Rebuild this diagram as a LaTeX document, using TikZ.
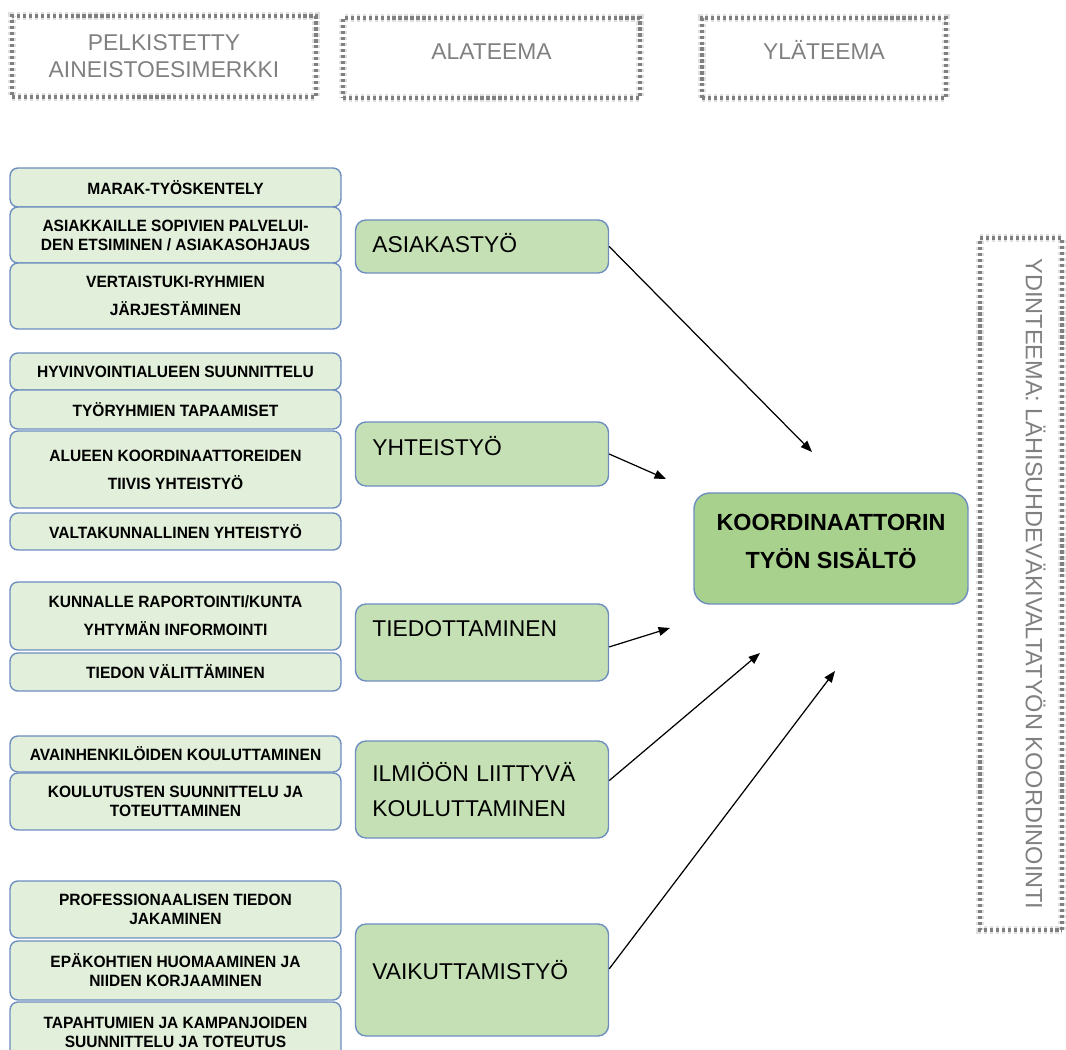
\documentclass[tikz,border=0pt]{standalone}
\usepackage{fontspec}
\setmainfont{Liberation Sans}
\newfontfamily\narrowfont[FakeStretch=0.95]{Liberation Sans}
\usepackage{tikz}
\usetikzlibrary{arrows.meta, positioning}

\definecolor{headgray}{RGB}{128,128,128}
\definecolor{itemfill}{RGB}{226,239,218}
\definecolor{itemline}{RGB}{109,142,191}
\definecolor{subfill}{RGB}{197,224,180}
\definecolor{mainfill}{RGB}{169,209,142}

\begin{document}
\begin{tikzpicture}[x=0.02cm, y=-0.02cm,
    head/.style={draw=headgray, line width=1.8pt, dash pattern=on 1.8pt off 1.6pt,
        preaction={draw=black!12, line width=4.5pt}, text=headgray,
        font=\fontsize{13}{15.3}\selectfont, align=center, inner sep=0pt},
    item/.style={draw=itemline, line width=0.8pt, fill=itemfill, rounded corners=4.5pt,
        minimum width=6.62cm, align=center, inner sep=1pt,
        font=\narrowfont\bfseries\fontsize{9.3}{10.8}\selectfont},
    theme/.style={draw=itemline, line width=0.8pt, fill=subfill, rounded corners=6pt,
        text width=124.8pt, inner xsep=9.6pt, inner ysep=0pt, align=left,
        font=\fontsize{13}{20}\selectfont},
    core/.style={draw=itemline, line width=0.8pt, fill=mainfill, rounded corners=9pt,
        minimum width=5.48cm, minimum height=2.22cm, align=center,
        font=\bfseries\fontsize{13.3}{21.5}\selectfont},
    lift/.style={text height=9.3pt, text depth=#1},
    arr/.style={-{Triangle[length=6.5pt,width=5pt]}, line width=0.7pt}]
    \useasboundingbox (0,0) rectangle (1066,1050);

    % Header boxes
    \node[head, minimum width=6.08cm, minimum height=1.62cm] (pelk) at (164,56.5) {PELKISTETTY\\AINEISTOESIMERKKI};
    \node[head, minimum width=5.94cm, minimum height=1.6cm, lift=8pt] (alat) at (491.5,58) {ALATEEMA};
    \node[head, minimum width=4.88cm, minimum height=1.6cm, lift=8pt] (ylat) at (824,58) {YLÄTEEMA};
    \node[head, rotate=-90, minimum width=13.84cm, minimum height=1.64cm, lift=14.8pt,
        font=\fontsize{13.4}{15.3}\selectfont] (ydin) at (1021,584) {YDINTEEMA: LÄHISUHDEVÄKIVALTATYÖN KOORDINOINTI};

    % Example boxes
    \node[item, minimum height=0.78cm] (marak) at (175.5,187.5) {MARAK-TYÖSKENTELY};
    \node[item, minimum height=1.12cm] (ohjaus) at (175.5,235) {ASIAKKAILLE SOPIVIEN PALVELUI-\\DEN ETSIMINEN / ASIAKASOHJAUS};
    \node[item, minimum height=1.32cm] (vertais) at (175.5,296) {VERTAISTUKI-RYHMIEN\\[5.2pt]JÄRJESTÄMINEN};

    \node[item, minimum height=0.74cm] (hyvin) at (175.5,371.5) {HYVINVOINTIALUEEN SUUNNITTELU};
    \node[item, minimum height=0.78cm] (tapaam) at (175.5,409.5) {TYÖRYHMIEN TAPAAMISET};
    \node[item, minimum height=1.54cm] (alueen) at (175.5,469.5) {ALUEEN KOORDINAATTOREIDEN\\[5.2pt]TIIVIS YHTEISTYÖ};
    \node[item, minimum height=0.74cm] (valta) at (175.5,531.5) {VALTAKUNNALLINEN YHTEISTYÖ};

    \node[item, minimum height=1.36cm] (kunta) at (175.5,616) {KUNNALLE RAPORTOINTI/KUNTA\\[5.2pt]YHTYMÄN INFORMOINTI};
    \node[item, minimum height=0.76cm] (valit) at (175.5,672) {TIEDON VÄLITTÄMINEN};

    \node[item, minimum height=0.72cm] (avain) at (175.5,754) {AVAINHENKILÖIDEN KOULUTTAMINEN};
    \node[item, minimum height=1.14cm] (koulut) at (175.5,801.5) {KOULUTUSTEN SUUNNITTELU JA\\TOTEUTTAMINEN};

    \node[item, minimum height=1.14cm] (prof) at (175.5,909.5) {PROFESSIONAALISEN TIEDON\\JAKAMINEN};
    \node[item, minimum height=1.18cm] (epak) at (175.5,970.5) {EPÄKOHTIEN HUOMAAMINEN JA\\NIIDEN KORJAAMINEN};
    \node[item, minimum height=1.2cm] (tapaht) at (175.5,1032) {TAPAHTUMIEN JA KAMPANJOIDEN\\SUUNNITTELU JA TOTEUTUS};

    % Subthemes
    \node[theme, minimum height=1.06cm, lift=2.8pt] (asiakas) at (482,246.5) {ASIAKASTYÖ};
    \node[theme, minimum height=1.28cm, lift=8pt] (yhteis) at (482,454) {YHTEISTYÖ};
    \node[theme, minimum height=1.54cm, lift=16pt] (tiedot) at (482,642.5) {TIEDOTTAMINEN};
    \node[theme, minimum height=1.94cm] (ilmio) at (482,789.5) {ILMIÖÖN LIITTYVÄ\\KOULUTTAMINEN};
    \node[theme, minimum height=2.24cm, lift=10pt] (vaikut) at (482,980) {VAIKUTTAMISTYÖ};

    % Main theme
    \node[core, text depth=8.5pt] (sisalto) at (831,548.5) {KOORDINAATTORIN\\TYÖN SISÄLTÖ};

    % Arrows
    \coordinate (e1) at (812,452);
    \coordinate (e2) at (666,479);
    \coordinate (e3) at (670,628);
    \coordinate (e4) at (760,653);
    \coordinate (e5) at (835,671);
    \draw[arr] (asiakas.east) -- (e1);
    \draw[arr] (yhteis.east) -- (e2);
    \draw[arr] (tiedot.-2.5) -- (e3);
    \draw[arr] (ilmio.4) -- (e4);
    \draw[arr] (vaikut.5) -- (e5);
\end{tikzpicture}
\end{document}
